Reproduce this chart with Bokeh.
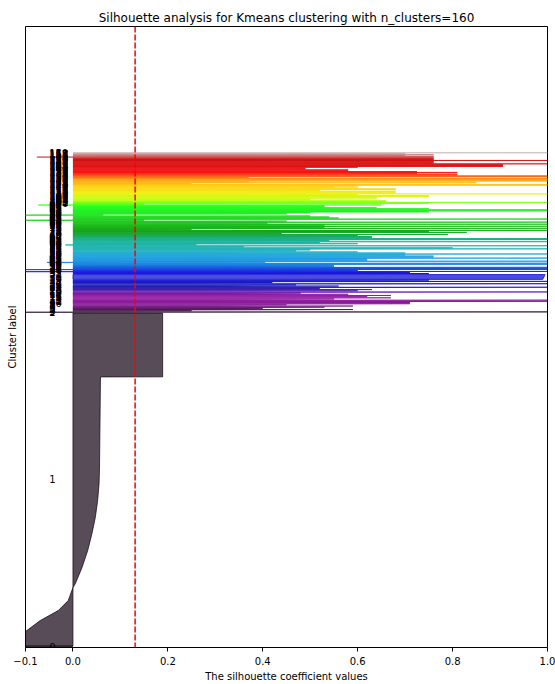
from bokeh.plotting import figure
from bokeh.models import Range1d, Span, FixedTicker, ColumnDataSource
from bokeh.embed import file_html
from bokeh.resources import INLINE
from bokeh.core.properties import value

# ---------------- data ----------------
n_clusters = 160
silhouette_avg = 0.131
title = "Silhouette analysis for Kmeans clustering with n_clusters=160"

# cluster 0 (tiny, all strongly negative)
c0_size = 2
c0_sil = [-0.35, -0.22]

# cluster 1 (large) : silhouette profile, sample rank -> value (sorted)
c1_size = 4535
c1_rank = [0, 87, 196, 345, 481, 617, 794, 848, 1066, 1297, 1528, 1746,
           1977, 2208, 2426, 3664, 3665, 4534]
c1_sil = [-0.30, -0.16, -0.10, -0.069, -0.031, -0.010, 0.0, 0.005, 0.019,
          0.031, 0.040, 0.047, 0.052, 0.055, 0.056, 0.058, 0.189, 0.189]

# clusters 2..159 : sizes, lowest and highest silhouette value
small_sizes = [6] * 28 + [67] + [4] * 66 + [2, 2, 1] * 21
small_lo = [
    -0.20, 0.10, 0.31, 0.22, 0.35, 0.28, 0.30, 0.41, 0.38, 0.44,
    0.47, 0.29, 0.36, 0.33, 0.40, 0.27, 0.32, 0.45, 0.30, 0.35,
    0.26, 0.48, 0.31, 0.29, 0.43, 0.24, 0.50, 0.37, 0.99, 0.34,
    0.39, -0.12, 0.28, -0.12, 0.46, 0.42, 0.30, 0.27, 0.44, 0.49,
    -0.055, 0.41, 0.33, 0.36, 0.47, 0.40, 0.38, 0.35, 0.52, 0.31,
    0.29, 0.25, 0.30, 0.45, 0.39, 0.20, 0.43, -0.016, 0.34, 0.28,
    0.46, 0.30, 0.48, 0.51, 0.33, 0.35, 0.31, 0.40, 0.27, 0.42,
    0.38, 0.44, 0.12, 0.49, 0.29, 0.47, 0.30, 0.41, 0.23, 0.53,
    0.26, -0.12, 0.45, 0.32, 0.30, 0.28, -0.12, 0.25, 0.27, 0.39,
    0.55, 0.50, 0.43, 0.36, 0.31, 0.29, -0.073, 0.08, 0.42, 0.48,
    0.37, 0.35, 0.30, 0.28, 0.36, 0.33, 0.41, 0.40, 0.34, 0.52,
    0.39, 0.37, 0.35, 0.30, 0.38, 0.42, 0.33, 0.31, 0.36, 0.49,
    0.51, 0.10, 0.44, 0.22, 0.47, 0.45, 0.50, 0.53, 0.21, 0.46,
    0.48, 0.41, 0.43, 0.39, 0.44, 0.40, 0.33, 0.35, 0.29, 0.30,
    0.34, 0.50, 0.47, 0.52, 0.55, 0.42, 0.44, 0.40, 0.54, 0.41,
    0.39, 0.43, -0.076, 0.45, 0.38, 0.44, 0.36, 0.58,
]
small_hi = [
    # clusters 2..29
    1.0, 0.25, 0.59, 0.40, 0.53, 0.59, 0.45, 0.71, 0.71, 1.0,
    1.0, 0.55, 0.67, 0.62, 0.67, 0.58, 0.48, 1.0, 0.60, 0.63,
    0.52, 1.0, 0.56, 0.47, 1.0, 0.42, 1.0, 0.75,
    # cluster 30
    0.995,
    # clusters 31..96
    0.75, 0.71, 1.0, 0.60, 1.0, 1.0, 1.0, 0.55, 0.55, 1.0,
    1.0, 0.405, 1.0, 0.62, 0.62, 1.0, 0.76, 0.76, 0.70, 1.0,
    0.70, 0.60, 0.47, 0.50, 1.0, 0.80, 0.36, 1.0, 0.26, 0.60,
    0.52, 1.0, 0.54, 1.0, 1.0, 0.63, 0.63, 0.60, 0.79, 0.44,
    0.83, 0.75, 1.0, 0.25, 1.0, 0.53, 1.0, 0.53, 1.0, 0.41,
    1.0, 0.45, 0.15, 1.0, 0.56, 0.54, 0.50, 0.064, 0.45, 0.50,
    0.75, 1.0, 1.0, 0.75, 0.64, 0.53,
    # clusters 97..159
    0.53, 0.65, 0.15, 0.75, 1.0, 0.66, 0.66, 0.50, 0.50, 0.64,
    0.64, 0.75, 0.75, 0.60, 1.0, 0.68, 0.68, 0.68, 0.52, 0.68,
    0.68, 0.60, 0.55, 0.60, 1.0, 1.0, 0.25, 0.85, 0.37, 1.0,
    1.0, 1.0, 1.0, 0.37, 1.0, 1.0, 0.81, 0.81, 0.725, 0.81,
    0.725, 0.58, 0.58, 0.49, 0.49, 0.60, 0.906, 0.906, 0.906, 1.0,
    0.76, 0.76, 0.76, 1.0, 0.76, 0.76, 0.76, 0.76, 0.76, 0.70,
    0.76, 0.70, 1.0,
]

xtick_vals = [-0.1, 0.0, 0.2, 0.4, 0.6, 0.8, 1.0]
xtick_labels = ["\u22120.1", "0.0", "0.2", "0.4", "0.6", "0.8", "1.0"]
Y_TOP = 8460

# ---------------- colormap (nipy_spectral) ----------------
_nipy = [(0, 0, 0), (0.4667, 0, 0.5333), (0.5333, 0, 0.6), (0, 0, 0.6667),
         (0, 0, 0.8667), (0, 0.4667, 0.8667), (0, 0.6, 0.8667),
         (0, 0.6667, 0.6667), (0, 0.6667, 0.5333), (0, 0.6, 0), (0, 0.7333, 0),
         (0, 0.8667, 0), (0, 1, 0), (0.7333, 1, 0), (0.9333, 0.9333, 0),
         (1, 0.8, 0), (1, 0.6, 0), (1, 0, 0), (0.8667, 0, 0), (0.8, 0, 0),
         (0.8, 0.8, 0.8)]


def nipy(f):
    t = f * 20
    k = min(int(t), 19)
    r = t - k
    c = [a + (b - a) * r for a, b in zip(_nipy[k], _nipy[k + 1])]
    return "#%02x%02x%02x" % tuple(int(round(v * 255)) for v in c)


# ---------------- build polygons ----------------
xs, ys, cols = [], [], []
lab_x, lab_y, lab_t = [], [], []

y_lower = 10
# cluster 0
y_up = y_lower + c0_size
xs.append([0] + c0_sil + [0])
ys.append([y_lower, y_lower, y_up - 1, y_up - 1])
cols.append(nipy(0 / n_clusters))
lab_x.append(-0.05); lab_y.append(y_lower + 0.5 * c0_size); lab_t.append("0")
y_lower = y_up + 10

# cluster 1
y_up = y_lower + c1_size
xs.append([0] + c1_sil + [0])
ys.append([y_lower] + [y_lower + r for r in c1_rank] + [y_up - 1])
cols.append(nipy(1 / n_clusters))
lab_x.append(-0.05); lab_y.append(y_lower + 0.5 * c1_size); lab_t.append("1")
y_lower = y_up + 10

for k, (sz, lo, hi) in enumerate(zip(small_sizes, small_lo, small_hi)):
    i = k + 2
    y_up = y_lower + sz
    xs.append([0, lo, hi, 0])
    ys.append([y_lower, y_lower, y_up - 1, y_up - 1])
    cols.append(nipy(i / n_clusters))
    lab_x.append(-0.05); lab_y.append(y_lower + 0.5 * sz); lab_t.append(str(i))
    y_lower = y_up + 10

# ---------------- figure ----------------
FONT = "DejaVu Sans"
p = figure(width=555, height=684, x_range=Range1d(-0.1, 1.0),
           y_range=Range1d(0, Y_TOP), output_backend="svg",
           toolbar_location=None, min_border_left=25, min_border_right=8,
           min_border_top=26, min_border_bottom=36)
p.title.text = title
p.title.align = "center"
p.title.text_font = FONT
p.title.text_font_size = "12px"
p.title.text_font_style = "normal"
p.title.text_color = "black"
p.title.standoff = 4

p.xgrid.visible = False
p.ygrid.visible = False
p.outline_line_color = "black"
p.outline_line_width = 1
p.outline_line_alpha = 1

src = ColumnDataSource(dict(xs=xs, ys=ys, color=cols))
p.patches(xs="xs", ys="ys", fill_color="color", line_color="color",
          fill_alpha=0.7, line_alpha=0.7, line_width=1, source=src)

p.text(x=lab_x, y=lab_y, text=lab_t, text_font=value(FONT),
       text_font_size="10px", text_baseline="alphabetic", text_align="left",
       text_color="black")

p.add_layout(Span(location=silhouette_avg, dimension="height",
                  line_color="red", line_dash="6 2", line_width=1.5))

p.xaxis.ticker = FixedTicker(ticks=xtick_vals)
p.xaxis.major_label_overrides = dict(zip(xtick_vals, xtick_labels))
p.xaxis.axis_label = "The silhouette coefficient values"
p.xaxis.axis_line_color = None
p.xaxis.minor_tick_line_color = None
p.xaxis.major_tick_line_color = "black"
p.xaxis.major_tick_in = 0
p.xaxis.major_tick_out = 4
p.xaxis.major_label_standoff = 5
p.xaxis.axis_label_standoff = 3
p.xaxis.major_label_text_font = FONT
p.xaxis.major_label_text_font_size = "10px"
p.xaxis.major_label_text_color = "black"
p.xaxis.axis_label_text_font = FONT
p.xaxis.axis_label_text_font_size = "10px"
p.xaxis.axis_label_text_font_style = "normal"
p.xaxis.axis_label_text_color = "black"

p.yaxis.ticker = FixedTicker(ticks=[])
p.yaxis.axis_label = "Cluster label"
p.yaxis.axis_line_color = None
p.yaxis.major_tick_line_color = None
p.yaxis.minor_tick_line_color = None
p.yaxis.major_label_text_font_size = "0px"
p.yaxis.axis_label_standoff = 8
p.yaxis.axis_label_text_font = FONT
p.yaxis.axis_label_text_font_size = "10px"
p.yaxis.axis_label_text_font_style = "normal"
p.yaxis.axis_label_text_color = "black"

open("out.html", "w").write(file_html(p, INLINE))
